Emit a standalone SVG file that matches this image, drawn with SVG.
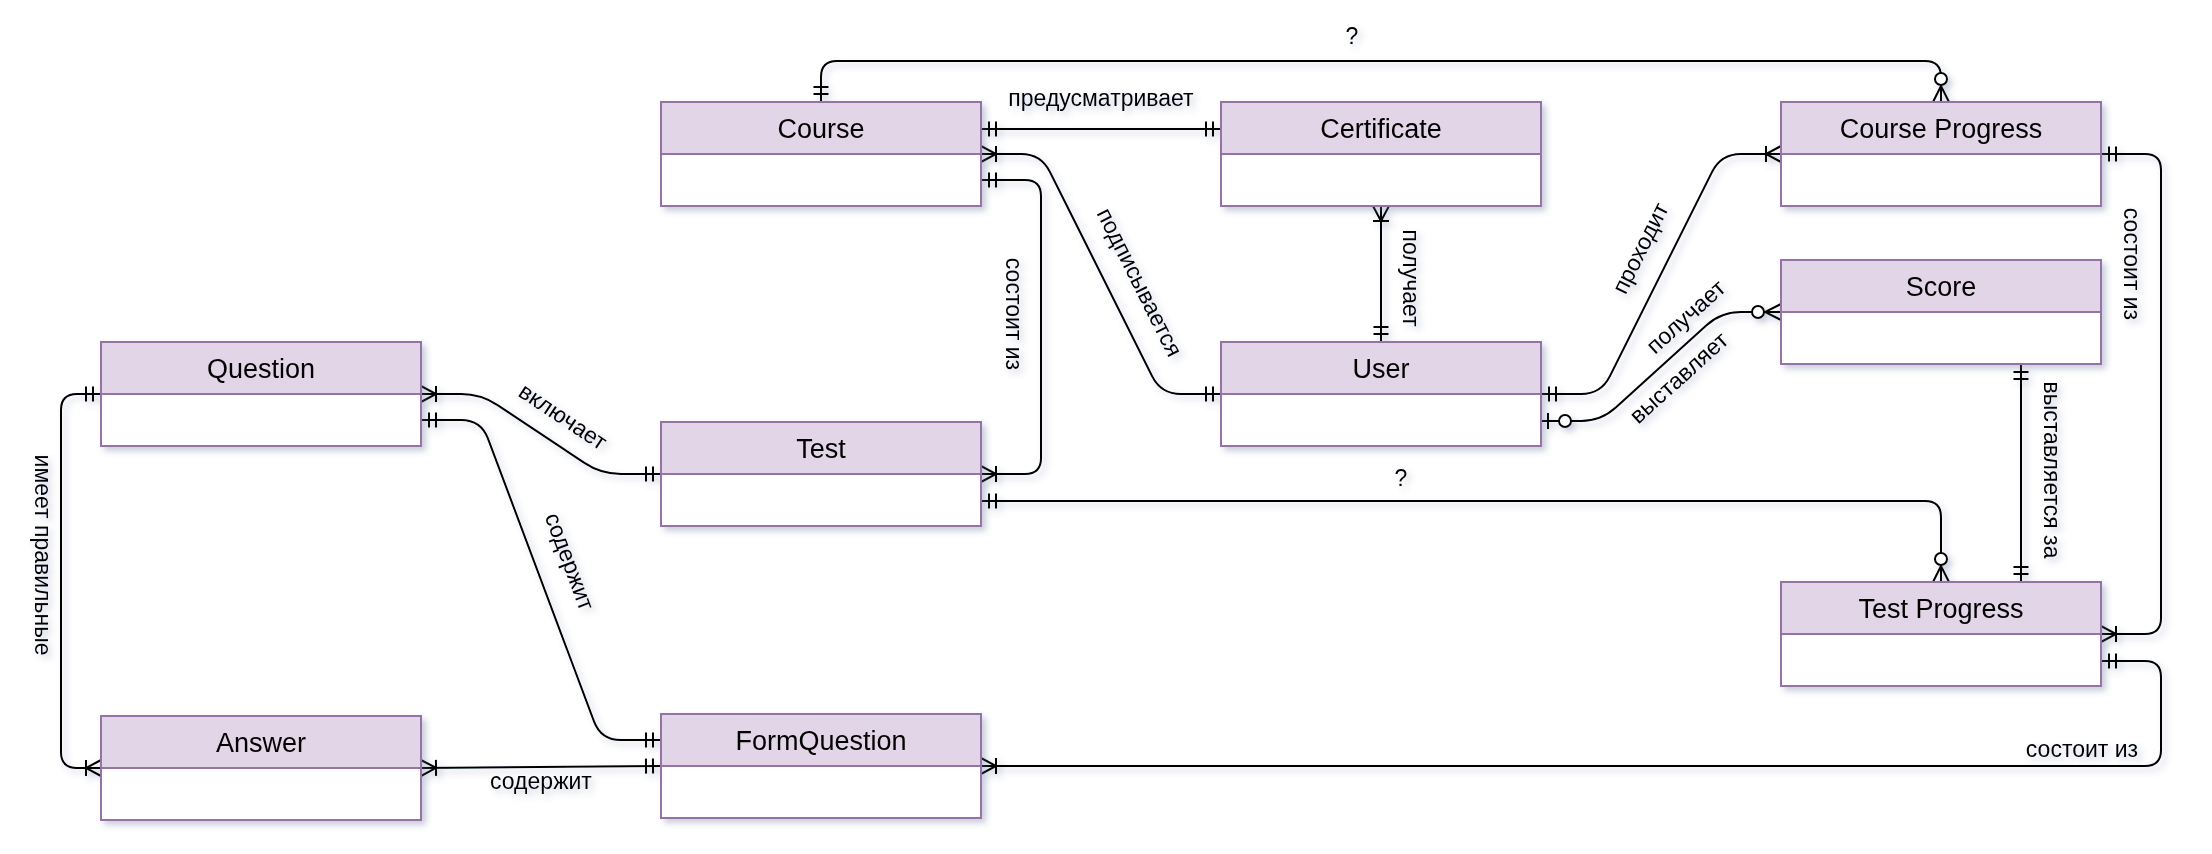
<svg xmlns="http://www.w3.org/2000/svg" width="2212" height="854" viewBox="0 0 2212 854">
<defs>
<filter id="sh" filterUnits="userSpaceOnUse" x="-20" y="-20" width="2252" height="894">
<feDropShadow dx="4" dy="4" stdDeviation="3" flood-color="#5a6a96" flood-opacity="0.33"/>
</filter>
<marker id="mOne" markerUnits="userSpaceOnUse" viewBox="-30 -15 32 30" refX="0" refY="0" markerWidth="32" markerHeight="30" orient="auto-start-reverse" overflow="visible">
<path d="M-8,-7.5V7.5M-15,-7.5V7.5" fill="none" stroke="#000" stroke-width="2"/>
</marker>
<marker id="mMany" markerUnits="userSpaceOnUse" viewBox="-30 -15 32 30" refX="0" refY="0" markerWidth="32" markerHeight="30" orient="auto-start-reverse" overflow="visible">
<path d="M0,-8L-15,0L0,8M-15,-8V8" fill="none" stroke="#000" stroke-width="2"/>
</marker>
<marker id="zMany" markerUnits="userSpaceOnUse" viewBox="-34 -15 36 30" refX="0" refY="0" markerWidth="36" markerHeight="30" orient="auto-start-reverse" overflow="visible">
<path d="M0,-8L-16,0L0,8" fill="none" stroke="#000" stroke-width="2"/>
<circle cx="-23" cy="0" r="6" fill="#fff" stroke="#000" stroke-width="2"/>
</marker>
<marker id="zOne" markerUnits="userSpaceOnUse" viewBox="-34 -15 36 30" refX="0" refY="0" markerWidth="36" markerHeight="30" orient="auto-start-reverse" overflow="visible">
<path d="M-7,-8V8" fill="none" stroke="#000" stroke-width="2"/>
<circle cx="-24" cy="0" r="6" fill="#fff" stroke="#000" stroke-width="2"/>
</marker>
</defs>
<style>
.body{fill:#ffffff;stroke:#9673a6;stroke-width:2}
.hdr{fill:#e1d5e7;stroke:#9673a6;stroke-width:2}
.title{font-family:"Liberation Sans",Arial,sans-serif;font-size:27px;fill:#000;text-anchor:middle}
.lbl{font-family:"Liberation Sans",Arial,sans-serif;font-size:23px;fill:#000;text-anchor:middle}
.edge{fill:none;stroke:#000;stroke-width:2}
</style>
<rect width="2212" height="854" fill="#ffffff"/>

<g id="connectors" filter="url(#sh)">
<path class="edge" d="M981,129L1221,129" marker-start="url(#mOne)" marker-end="url(#mOne)"/>
<path class="edge" d="M981,154L1021,154Q1041,154 1049.9,171.9L1152.1,376.1Q1161,394 1181,394L1221,394" marker-start="url(#mMany)" marker-end="url(#mOne)"/>
<path class="edge" d="M981,180L1025,180Q1041,180 1041,196L1041,458Q1041,474 1025,474L981,474" marker-start="url(#mOne)" marker-end="url(#mMany)"/>
<path class="edge" d="M821,102L821,77Q821,61 837,61L1925,61Q1941,61 1941,77L1941,102" marker-start="url(#mOne)" marker-end="url(#zMany)"/>
<path class="edge" d="M1381,206L1381,342" marker-start="url(#mMany)" marker-end="url(#mOne)"/>
<path class="edge" d="M1541,394L1581,394Q1601,394 1609.9,376.1L1712.1,171.9Q1721,154 1741,154L1781,154" marker-start="url(#mOne)" marker-end="url(#mMany)"/>
<path class="edge" d="M1541,421L1581,421Q1601,421 1615.8,407.6L1706.2,325.4Q1721,312 1741,312L1781,312" marker-start="url(#zOne)" marker-end="url(#zMany)"/>
<path class="edge" d="M981,501L1925,501Q1941,501 1941,517L1941,582" marker-start="url(#mOne)" marker-end="url(#zMany)"/>
<path class="edge" d="M2021,364L2021,582" marker-start="url(#mOne)" marker-end="url(#mOne)"/>
<path class="edge" d="M2101,154L2145,154Q2161,154 2161,170L2161,618Q2161,634 2145,634L2101,634" marker-start="url(#mOne)" marker-end="url(#mMany)"/>
<path class="edge" d="M2101,661L2145,661Q2161,661 2161,677L2161,750Q2161,766 2145,766L981,766" marker-start="url(#mOne)" marker-end="url(#mMany)"/>
<path class="edge" d="M421,394L461,394Q481,394 497.6,405.1L584.4,462.9Q601,474 621,474L661,474" marker-start="url(#mMany)" marker-end="url(#mOne)"/>
<path class="edge" d="M421,420L461,420Q481,420 488,438.7L594,721.3Q601,740 621,740L661,740" marker-start="url(#mOne)" marker-end="url(#mOne)"/>
<path class="edge" d="M101,394L77,394Q61,394 61,410L61,752Q61,768 77,768L101,768" marker-start="url(#mOne)" marker-end="url(#mMany)"/>
<path class="edge" d="M421,768L661,766" marker-start="url(#mMany)" marker-end="url(#mOne)"/>

<text class="lbl" x="1101" y="106">предусматривает</text>
<text class="lbl" transform="translate(1138,283) rotate(63.4)" x="0" y="6">подписывается</text>
<text class="lbl" transform="translate(1012,314) rotate(90)" x="0" y="6">состоит из</text>
<text class="lbl" transform="translate(1409,278) rotate(90)" x="0" y="6">получает</text>
<text class="lbl" transform="translate(1642,249) rotate(-63.4)" x="0" y="6">проходит</text>
<text class="lbl" transform="translate(1687,318) rotate(-42)" x="0" y="6">получает</text>
<text class="lbl" transform="translate(1680,379) rotate(-42)" x="0" y="6">выставляет</text>
<text class="lbl" x="1352" y="44">?</text>
<text class="lbl" x="1401" y="486">?</text>
<text class="lbl" transform="translate(2130,264) rotate(90)" x="0" y="6">состоит из</text>
<text class="lbl" transform="translate(2050,470) rotate(90)" x="0" y="6">выставляется за</text>
<text class="lbl" x="2082" y="757">состоит из</text>
<text class="lbl" transform="translate(562,418) rotate(33.7)" x="0" y="6">включает</text>
<text class="lbl" transform="translate(568,562) rotate(69.4)" x="0" y="6">содержит</text>
<text class="lbl" x="541" y="789">содержит</text>
<text class="lbl" transform="translate(41,555) rotate(90)" x="0" y="6">имеет правильные</text>
</g>

<g id="node-course" filter="url(#sh)">
<rect class="body" x="661" y="102" width="320" height="104"/>
<rect class="hdr" x="661" y="102" width="320" height="52"/>
<text class="title" x="821" y="138">Course</text>
</g>
<g id="node-certificate" filter="url(#sh)">
<rect class="body" x="1221" y="102" width="320" height="104"/>
<rect class="hdr" x="1221" y="102" width="320" height="52"/>
<text class="title" x="1381" y="138">Certificate</text>
</g>
<g id="node-course-progress" filter="url(#sh)">
<rect class="body" x="1781" y="102" width="320" height="104"/>
<rect class="hdr" x="1781" y="102" width="320" height="52"/>
<text class="title" x="1941" y="138">Course Progress</text>
</g>
<g id="node-score" filter="url(#sh)">
<rect class="body" x="1781" y="260" width="320" height="104"/>
<rect class="hdr" x="1781" y="260" width="320" height="52"/>
<text class="title" x="1941" y="296">Score</text>
</g>
<g id="node-user" filter="url(#sh)">
<rect class="body" x="1221" y="342" width="320" height="104"/>
<rect class="hdr" x="1221" y="342" width="320" height="52"/>
<text class="title" x="1381" y="378">User</text>
</g>
<g id="node-question" filter="url(#sh)">
<rect class="body" x="101" y="342" width="320" height="104"/>
<rect class="hdr" x="101" y="342" width="320" height="52"/>
<text class="title" x="261" y="378">Question</text>
</g>
<g id="node-test" filter="url(#sh)">
<rect class="body" x="661" y="422" width="320" height="104"/>
<rect class="hdr" x="661" y="422" width="320" height="52"/>
<text class="title" x="821" y="458">Test</text>
</g>
<g id="node-test-progress" filter="url(#sh)">
<rect class="body" x="1781" y="582" width="320" height="104"/>
<rect class="hdr" x="1781" y="582" width="320" height="52"/>
<text class="title" x="1941" y="618">Test Progress</text>
</g>
<g id="node-answer" filter="url(#sh)">
<rect class="body" x="101" y="716" width="320" height="104"/>
<rect class="hdr" x="101" y="716" width="320" height="52"/>
<text class="title" x="261" y="752">Answer</text>
</g>
<g id="node-formquestion" filter="url(#sh)">
<rect class="body" x="661" y="714" width="320" height="104"/>
<rect class="hdr" x="661" y="714" width="320" height="52"/>
<text class="title" x="821" y="750">FormQuestion</text>
</g>
</svg>
